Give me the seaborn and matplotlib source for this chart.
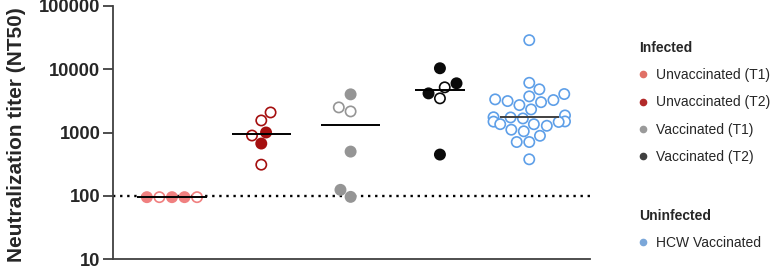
import numpy as np
import pandas as pd
import matplotlib
matplotlib.use("Agg")
import matplotlib.pyplot as plt
from matplotlib.lines import Line2D
from matplotlib.ticker import NullLocator
import seaborn as sns

# ---------------- data ----------------
groups = ["Unvaccinated (T1)", "Unvaccinated (T2)", "Vaccinated (T1)",
          "Vaccinated (T2)", "HCW Vaccinated"]

unvacc_t1 = [95, 95, 95, 95, 95]
unvacc_t1_filled = [1, 0, 1, 1, 0]

unvacc_t2 = [2075, 1550, 896, 1000, 669, 310]
unvacc_t2_filled = [0, 0, 0, 1, 1, 0]

vacc_t1 = [4010, 2494, 2154, 499, 124, 96]
vacc_t1_filled = [1, 0, 0, 1, 1, 1]

vacc_t2 = [10370, 5995, 5180, 3465, 4155, 448]
vacc_t2_filled = [1, 1, 0, 0, 1, 1]

hcw_vacc = [28840, 6105, 4816, 4054, 3727, 3340, 3256, 3139, 3015, 2712,
            2317, 1862, 1742, 1730, 1668, 1496, 1468, 1485, 1355, 1352,
            1277, 1107, 1045, 887, 707, 707, 377]
hcw_vacc_filled = [0] * len(hcw_vacc)

tick_values = [10, 100, 1000, 10000, 100000]
limit_of_detection = 100

infected_labels = ["Unvaccinated (T1)", "Unvaccinated (T2)", "Vaccinated (T1)", "Vaccinated (T2)"]
uninfected_labels = ["HCW Vaccinated"]

# ---------------- styles ----------------
colors = ["#F08080", "#A50F0F", "#959595", "#0a0a0a", "#5E9FE8"]
legend_colors = ["#E07066", "#B22A2A", "#9A9A9A", "#404040", "#7BA7D9"]
median_widths = [0.78, 0.66, 0.66, 0.56, 0.66]
median_colors = ["black", "black", "black", "black", "#404040"]

values = [unvacc_t1, unvacc_t2, vacc_t1, vacc_t2, hcw_vacc]
filled = [unvacc_t1_filled, unvacc_t2_filled, vacc_t1_filled, vacc_t2_filled, hcw_vacc_filled]

df = pd.DataFrame({
    "group": np.concatenate([[g] * len(v) for g, v in zip(groups, values)]),
    "value": np.concatenate(values).astype(float),
    "filled": np.concatenate(filled).astype(bool),
})

sns.set_style("ticks")
plt.rcParams["font.family"] = ["Liberation Sans", "DejaVu Sans"]

fig = plt.figure(figsize=(7.72, 2.69), dpi=100)
ax = fig.add_axes([113 / 772, 1 - 259 / 269, (590 - 113) / 772, (259 - 6) / 269])

sns.swarmplot(data=df, x="group", y="value", hue="group", order=groups,
              hue_order=groups, palette=colors, size=7.4, linewidth=1.2,
              log_scale=True, legend=False, ax=ax, zorder=2)

# open / filled markers
for coll, g, c in zip(ax.collections, groups, colors):
    f = df.loc[df["group"] == g, "filled"].to_numpy()
    fc = [c if fi else "white" for fi in f]
    coll.set_facecolors(fc)
    coll.set_edgecolors([c] * len(f))

# medians
for i, (v, w, mc) in enumerate(zip(values, median_widths, median_colors)):
    med = np.median(v)
    ax.hlines(med, i - w / 2, i + w / 2, color=mc, lw=1.4, zorder=3)

ax.axhline(limit_of_detection, ls=(0, (1, 2)), lw=1.7, color="black", zorder=1)

ax.set_yscale("log")
ax.set_ylim(10, 100000)
ax.set_xlim(-0.66, 4.68)
ax.set_yticks(tick_values)
ax.set_yticklabels([str(t) for t in tick_values], fontsize=13.2, fontweight="bold")
ax.yaxis.set_minor_locator(NullLocator())
ax.set_xticks([])
ax.set_xlabel("")
ax.set_ylabel("Neutralization titer (NT50)", fontsize=15, fontweight="bold")
ax.yaxis.set_label_coords(-0.183, 0.49)
ax.tick_params(axis="y", length=7, width=1.3, color="#404040", pad=2)
for s in ["top", "right"]:
    ax.spines[s].set_visible(False)
for s in ["left", "bottom"]:
    ax.spines[s].set_linewidth(1.3)
    ax.spines[s].set_color("#404040")

# legends
def handles(cols):
    return [Line2D([], [], ls="", marker="o", markersize=4.5, color=c) for c in cols]

common = dict(loc="upper left", frameon=False, fontsize=10, alignment="left",
              borderpad=0, borderaxespad=0, handlelength=0.6, handletextpad=0.62,
              labelspacing=0.95, bbox_transform=fig.transFigure)

leg1 = fig.legend(handles(legend_colors[:4]), infected_labels, title="Infected",
                  bbox_to_anchor=(639 / 772, 1 - 41 / 269), **common)
leg1.get_title().set_fontweight("bold")
leg1.get_title().set_fontsize(10)

leg2 = fig.legend(handles(legend_colors[4:]), uninfected_labels, title="Uninfected",
                  bbox_to_anchor=(639 / 772, 1 - 209 / 269), **common)
leg2.get_title().set_fontweight("bold")
leg2.get_title().set_fontsize(10)

fig.savefig("out.png", dpi=100)
